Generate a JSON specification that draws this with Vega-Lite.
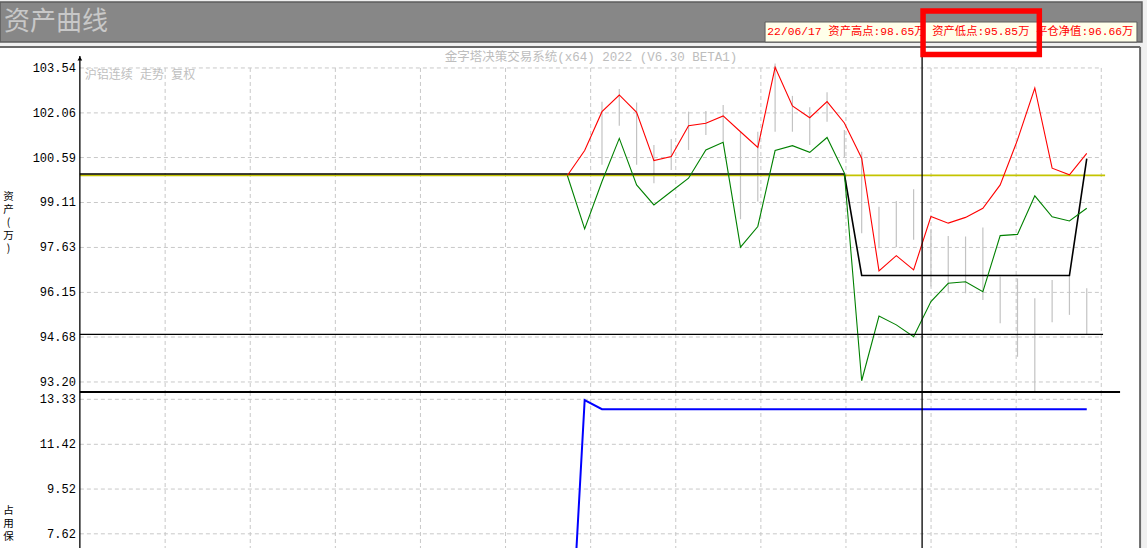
{
  "$schema": "https://vega.github.io/schema/vega-lite/v6.json",
  "width": 1147,
  "height": 548,
  "autosize": "none",
  "padding": 0,
  "background": "#f0f0f0",
  "config": {"view": {"stroke": null}, "font": "Noto Sans CJK SC"},
  "datasets": {
    "series": [
      {"i": 0, "hi": 100.00, "lo": 100.00, "net": 100.00, "margin": 0},
      {"i": 1, "hi": 100.82, "lo": 98.24, "net": 100.00, "margin": 13.30},
      {"i": 2, "hi": 102.10, "lo": 99.80, "net": 100.00, "margin": 12.91},
      {"i": 3, "hi": 102.65, "lo": 101.22, "net": 100.00, "margin": 12.91},
      {"i": 4, "hi": 102.08, "lo": 99.69, "net": 100.00, "margin": 12.91},
      {"i": 5, "hi": 100.49, "lo": 99.03, "net": 100.00, "margin": 12.91},
      {"i": 6, "hi": 100.62, "lo": 99.47, "net": 100.00, "margin": 12.91},
      {"i": 7, "hi": 101.64, "lo": 99.91, "net": 100.00, "margin": 12.91},
      {"i": 8, "hi": 101.72, "lo": 100.84, "net": 100.00, "margin": 12.91},
      {"i": 9, "hi": 101.96, "lo": 101.09, "net": 100.00, "margin": 12.91},
      {"i": 10, "hi": 101.44, "lo": 97.64, "net": 100.00, "margin": 12.91},
      {"i": 11, "hi": 100.92, "lo": 98.32, "net": 100.00, "margin": 12.91},
      {"i": 12, "hi": 103.56, "lo": 100.82, "net": 100.00, "margin": 12.91},
      {"i": 13, "hi": 102.29, "lo": 100.98, "net": 100.00, "margin": 12.91},
      {"i": 14, "hi": 101.90, "lo": 100.76, "net": 100.00, "margin": 12.91},
      {"i": 15, "hi": 102.43, "lo": 101.25, "net": 100.00, "margin": 12.91},
      {"i": 16, "hi": 101.73, "lo": 100.08, "net": 100.00, "margin": 12.91},
      {"i": 17, "hi": 100.57, "lo": 93.24, "net": 96.66, "margin": 12.91},
      {"i": 18, "hi": 96.86, "lo": 95.37, "net": 96.66, "margin": 12.91},
      {"i": 19, "hi": 97.36, "lo": 95.08, "net": 96.66, "margin": 12.91},
      {"i": 20, "hi": 96.89, "lo": 94.69, "net": 96.66, "margin": 12.91},
      {"i": 21, "hi": 98.65, "lo": 95.85, "net": 96.66, "margin": 12.91},
      {"i": 22, "hi": 98.43, "lo": 96.45, "net": 96.66, "margin": 12.91},
      {"i": 23, "hi": 98.62, "lo": 96.50, "net": 96.66, "margin": 12.91},
      {"i": 24, "hi": 98.92, "lo": 96.17, "net": 96.66, "margin": 12.91},
      {"i": 25, "hi": 99.69, "lo": 98.02, "net": 96.66, "margin": 12.91},
      {"i": 26, "hi": 101.17, "lo": 98.06, "net": 96.66, "margin": 12.91},
      {"i": 27, "hi": 102.88, "lo": 99.33, "net": 96.66, "margin": 12.91},
      {"i": 28, "hi": 100.24, "lo": 98.64, "net": 96.66, "margin": 12.91},
      {"i": 29, "hi": 100.02, "lo": 98.50, "net": 96.66, "margin": 12.91},
      {"i": 30, "hi": 100.73, "lo": 98.92, "net": 100.51, "margin": 12.91}
    ],
    "bars": [
      {"i": 2, "top": 102.43, "bot": 100.35},
      {"i": 3, "top": 102.85, "bot": 101.64},
      {"i": 4, "top": 102.40, "bot": 100.35},
      {"i": 5, "top": 101.00, "bot": 99.74},
      {"i": 6, "top": 101.20, "bot": 100.18},
      {"i": 7, "top": 102.10, "bot": 100.84},
      {"i": 8, "top": 102.12, "bot": 101.33},
      {"i": 9, "top": 102.32, "bot": 101.11},
      {"i": 10, "top": 101.44, "bot": 98.56},
      {"i": 11, "top": 101.44, "bot": 99.14},
      {"i": 12, "top": 103.69, "bot": 101.44},
      {"i": 13, "top": 102.62, "bot": 101.44},
      {"i": 14, "top": 102.25, "bot": 101.00},
      {"i": 15, "top": 102.74, "bot": 101.77},
      {"i": 16, "top": 101.50, "bot": 100.60},
      {"i": 17, "top": 100.78, "bot": 98.10},
      {"i": 18, "top": 98.97, "bot": 97.60},
      {"i": 19, "top": 99.16, "bot": 97.64},
      {"i": 20, "top": 99.55, "bot": 97.88},
      {"i": 21, "top": 98.21, "bot": 96.34},
      {"i": 22, "top": 98.01, "bot": 96.12},
      {"i": 23, "top": 97.99, "bot": 96.12},
      {"i": 24, "top": 98.29, "bot": 95.90},
      {"i": 25, "top": 96.67, "bot": 95.13},
      {"i": 26, "top": 96.61, "bot": 94.03},
      {"i": 27, "top": 95.96, "bot": 92.88},
      {"i": 28, "top": 96.56, "bot": 95.17},
      {"i": 29, "top": 96.72, "bot": 95.41},
      {"i": 30, "top": 96.29, "bot": 94.75}
    ],
    "vgrid": [
      {"g": -23.231}, {"g": -18.316}, {"g": -13.400}, {"g": -8.485}, {"g": -3.570}, {"g": 1.346},
      {"g": 6.261}, {"g": 11.177}, {"g": 16.092}, {"g": 21.007}, {"g": 25.923}, {"g": 30.838}
    ],
    "ugrid": [
      {"v": 103.54}, {"v": 102.06}, {"v": 100.59}, {"v": 99.11}, {"v": 97.63}, {"v": 96.15}, {"v": 94.68}, {"v": 93.20}
    ],
    "lgrid": [
      {"v": 13.33}, {"v": 11.42}, {"v": 9.52}, {"v": 7.62}
    ]
  },
  "layer": [
    {
      "layer": [
        {
          "data": {"values": [{}]},
          "mark": {"type": "rect", "fill": "#ffffff"},
          "encoding": {
            "x": {"datum": -32.77, "type": "quantitative", "scale": {"domain": [-32.77, 33.48], "nice": false, "zero": false}, "axis": null},
            "x2": {"datum": 33.08},
            "y": {"datum": 104.23, "type": "quantitative", "scale": {"domain": [92.87, 104.23], "range": [392, 47], "nice": false, "zero": false}, "axis": null},
            "y2": {"datum": 92.87}
          }
        },
        {
          "data": {"name": "ugrid"},
          "mark": {"type": "rule", "stroke": "#c8c8c8", "strokeDash": [4, 3], "strokeWidth": 1},
          "encoding": {
            "x": {"datum": -28.157, "type": "quantitative", "scale": {"domain": [-32.77, 33.48], "nice": false, "zero": false}, "axis": null},
            "x2": {"datum": 30.838},
            "y": {"field": "v", "type": "quantitative", "scale": {"domain": [92.87, 104.23], "range": [392, 47], "nice": false, "zero": false}, "axis": null}
          }
        },
        {
          "data": {"name": "ugrid"},
          "mark": {"type": "text", "align": "right", "baseline": "middle", "dx": -4, "font": "Liberation Mono", "fontSize": 12, "fill": "#000000"},
          "encoding": {
            "x": {"datum": -28.157, "type": "quantitative", "scale": {"domain": [-32.77, 33.48], "nice": false, "zero": false}, "axis": null},
            "y": {"field": "v", "type": "quantitative", "scale": {"domain": [92.87, 104.23], "range": [392, 47], "nice": false, "zero": false}, "axis": null},
            "text": {"field": "v", "type": "quantitative", "format": ".2f"}
          }
        },
        {
          "data": {"values": [{}]},
          "mark": {"type": "text", "align": "center", "baseline": "top", "font": "Noto Sans CJK SC", "fontSize": 10.5, "lineHeight": 13, "fill": "#000000"},
          "encoding": {
            "x": {"datum": -32.276, "type": "quantitative", "scale": {"domain": [-32.77, 33.48], "nice": false, "zero": false}, "axis": null},
            "y": {"datum": 99.44, "type": "quantitative", "scale": {"domain": [92.87, 104.23], "range": [392, 47], "nice": false, "zero": false}, "axis": null},
            "text": {"value": ["资", "产", "(", "万", ")"]}
          }
        },
        {
          "data": {"name": "vgrid"},
          "mark": {"type": "rule", "stroke": "#c8c8c8", "strokeDash": [4, 3], "strokeWidth": 1},
          "encoding": {
            "x": {"field": "g", "type": "quantitative", "scale": {"domain": [-32.77, 33.48], "nice": false, "zero": false}, "axis": null},
            "y": {"datum": 103.54, "type": "quantitative", "scale": {"domain": [92.87, 104.23], "range": [392, 47], "nice": false, "zero": false}, "axis": null},
            "y2": {"datum": 92.87}
          }
        },
        {
          "data": {"name": "bars"},
          "mark": {"type": "rule", "stroke": "#c3c3c3", "strokeWidth": 1.2},
          "encoding": {
            "x": {"field": "i", "type": "quantitative", "scale": {"domain": [-32.77, 33.48], "nice": false, "zero": false}, "axis": null},
            "y": {"field": "top", "type": "quantitative", "scale": {"domain": [92.87, 104.23], "range": [392, 47], "nice": false, "zero": false}, "axis": null},
            "y2": {"field": "bot"}
          }
        },
        {
          "data": {"values": [{}]},
          "mark": {"type": "rule", "stroke": "#c4c400", "strokeWidth": 1.8},
          "encoding": {
            "x": {"datum": -28.157, "type": "quantitative", "scale": {"domain": [-32.77, 33.48], "nice": false, "zero": false}, "axis": null},
            "x2": {"datum": 31.06},
            "y": {"datum": 100, "type": "quantitative", "scale": {"domain": [92.87, 104.23], "range": [392, 47], "nice": false, "zero": false}, "axis": null}
          }
        },
        {
          "data": {"values": [{}]},
          "mark": {"type": "rule", "stroke": "#000000", "strokeWidth": 1.6, "yOffset": -1.4},
          "encoding": {
            "x": {"datum": -28.157, "type": "quantitative", "scale": {"domain": [-32.77, 33.48], "nice": false, "zero": false}, "axis": null},
            "x2": {"datum": 0},
            "y": {"datum": 100, "type": "quantitative", "scale": {"domain": [92.87, 104.23], "range": [392, 47], "nice": false, "zero": false}, "axis": null}
          }
        },
        {
          "data": {"name": "series"},
          "mark": {"type": "line", "stroke": "#000000", "strokeWidth": 1.6, "yOffset": -1.4},
          "encoding": {
            "x": {"field": "i", "type": "quantitative", "scale": {"domain": [-32.77, 33.48], "nice": false, "zero": false}, "axis": null},
            "y": {"field": "net", "type": "quantitative", "scale": {"domain": [92.87, 104.23], "range": [392, 47], "nice": false, "zero": false}, "axis": null}
          }
        },
        {
          "data": {"name": "series"},
          "mark": {"type": "line", "stroke": "#008000", "strokeWidth": 1.1},
          "encoding": {
            "x": {"field": "i", "type": "quantitative", "scale": {"domain": [-32.77, 33.48], "nice": false, "zero": false}, "axis": null},
            "y": {"field": "lo", "type": "quantitative", "scale": {"domain": [92.87, 104.23], "range": [392, 47], "nice": false, "zero": false}, "axis": null}
          }
        },
        {
          "data": {"name": "series"},
          "mark": {"type": "line", "stroke": "#ff0000", "strokeWidth": 1.1},
          "encoding": {
            "x": {"field": "i", "type": "quantitative", "scale": {"domain": [-32.77, 33.48], "nice": false, "zero": false}, "axis": null},
            "y": {"field": "hi", "type": "quantitative", "scale": {"domain": [92.87, 104.23], "range": [392, 47], "nice": false, "zero": false}, "axis": null}
          }
        },
        {
          "data": {"values": [{}]},
          "mark": {"type": "rule", "stroke": "#000000", "strokeWidth": 1.3},
          "encoding": {
            "x": {"datum": -28.157, "type": "quantitative", "scale": {"domain": [-32.77, 33.48], "nice": false, "zero": false}, "axis": null},
            "x2": {"datum": 30.942},
            "y": {"datum": 94.77, "type": "quantitative", "scale": {"domain": [92.87, 104.23], "range": [392, 47], "nice": false, "zero": false}, "axis": null}
          }
        },
        {
          "data": {"values": [{}]},
          "mark": {"type": "rule", "stroke": "#000000", "strokeWidth": 1.3},
          "encoding": {
            "x": {"datum": 20.49, "type": "quantitative", "scale": {"domain": [-32.77, 33.48], "nice": false, "zero": false}, "axis": null},
            "y": {"datum": 104.23, "type": "quantitative", "scale": {"domain": [92.87, 104.23], "range": [392, 47], "nice": false, "zero": false}, "axis": null},
            "y2": {"datum": 92.87}
          }
        },
        {
          "data": {"values": [{}]},
          "mark": {"type": "rule", "stroke": "#000000", "strokeWidth": 1.3},
          "encoding": {
            "x": {"datum": -28.157, "type": "quantitative", "scale": {"domain": [-32.77, 33.48], "nice": false, "zero": false}, "axis": null},
            "y": {"datum": 103.93, "type": "quantitative", "scale": {"domain": [92.87, 104.23], "range": [392, 47], "nice": false, "zero": false}, "axis": null},
            "y2": {"datum": 92.87}
          }
        },
        {
          "data": {"values": [{}]},
          "mark": {"type": "point", "shape": "triangle-up", "filled": true, "fill": "#000000", "size": 22, "opacity": 1},
          "encoding": {
            "x": {"datum": -28.157, "type": "quantitative", "scale": {"domain": [-32.77, 33.48], "nice": false, "zero": false}, "axis": null},
            "y": {"datum": 103.85, "type": "quantitative", "scale": {"domain": [92.87, 104.23], "range": [392, 47], "nice": false, "zero": false}, "axis": null}
          }
        },
        {
          "data": {"values": [{}]},
          "mark": {"type": "text", "align": "center", "baseline": "middle", "font": "Liberation Mono, Noto Sans CJK SC", "fontSize": 12.5, "fill": "#bdbdbd"},
          "encoding": {
            "x": {"datum": 1.369, "type": "quantitative", "scale": {"domain": [-32.77, 33.48], "nice": false, "zero": false}, "axis": null},
            "y": {"datum": 103.9, "type": "quantitative", "scale": {"domain": [92.87, 104.23], "range": [392, 47], "nice": false, "zero": false}, "axis": null},
            "text": {"value": "金字塔决策交易系统(x64) 2022 (V6.30 BETA1)"}
          }
        },
        {
          "data": {"values": [{}]},
          "mark": {"type": "text", "align": "left", "baseline": "middle", "font": "Liberation Mono, Noto Sans CJK SC", "fontSize": 12, "fill": "#c0c0c0"},
          "encoding": {
            "x": {"datum": -27.87, "type": "quantitative", "scale": {"domain": [-32.77, 33.48], "nice": false, "zero": false}, "axis": null},
            "y": {"datum": 103.31, "type": "quantitative", "scale": {"domain": [92.87, 104.23], "range": [392, 47], "nice": false, "zero": false}, "axis": null},
            "text": {"value": "沪铝连续 走势 复权"}
          }
        },
        {
          "data": {"values": [{}]},
          "mark": {"type": "rule", "stroke": "#6a6a6a", "strokeWidth": 2},
          "encoding": {
            "x": {"datum": -32.77, "type": "quantitative", "scale": {"domain": [-32.77, 33.48], "nice": false, "zero": false}, "axis": null},
            "x2": {"datum": 33.08},
            "y": {"datum": 104.23, "type": "quantitative", "scale": {"domain": [92.87, 104.23], "range": [392, 47], "nice": false, "zero": false}, "axis": null}
          }
        },
        {
          "data": {"values": [{}]},
          "mark": {"type": "rule", "stroke": "#6a6a6a", "strokeWidth": 2},
          "encoding": {
            "x": {"datum": 33.08, "type": "quantitative", "scale": {"domain": [-32.77, 33.48], "nice": false, "zero": false}, "axis": null},
            "y": {"datum": 104.23, "type": "quantitative", "scale": {"domain": [92.87, 104.23], "range": [392, 47], "nice": false, "zero": false}, "axis": null},
            "y2": {"datum": 92.87}
          }
        }
      ]
    },
    {
      "layer": [
        {
          "data": {"values": [{}]},
          "mark": {"type": "rect", "fill": "#ffffff"},
          "encoding": {
            "x": {"datum": -32.77, "type": "quantitative", "scale": {"domain": [-32.77, 33.48], "nice": false, "zero": false}, "axis": null},
            "x2": {"datum": 33.08},
            "y": {"datum": 13.64, "type": "quantitative", "scale": {"domain": [0.99, 13.64], "range": [690, 392], "nice": false, "zero": false}, "axis": null},
            "y2": {"datum": 0.99}
          }
        },
        {
          "data": {"name": "lgrid"},
          "mark": {"type": "rule", "stroke": "#c8c8c8", "strokeDash": [4, 3], "strokeWidth": 1},
          "encoding": {
            "x": {"datum": -28.157, "type": "quantitative", "scale": {"domain": [-32.77, 33.48], "nice": false, "zero": false}, "axis": null},
            "x2": {"datum": 30.838},
            "y": {"field": "v", "type": "quantitative", "scale": {"domain": [0.99, 13.64], "range": [690, 392], "nice": false, "zero": false}, "axis": null}
          }
        },
        {
          "data": {"name": "lgrid"},
          "mark": {"type": "text", "align": "right", "baseline": "middle", "dx": -4, "font": "Liberation Mono", "fontSize": 12, "fill": "#000000"},
          "encoding": {
            "x": {"datum": -28.157, "type": "quantitative", "scale": {"domain": [-32.77, 33.48], "nice": false, "zero": false}, "axis": null},
            "y": {"field": "v", "type": "quantitative", "scale": {"domain": [0.99, 13.64], "range": [690, 392], "nice": false, "zero": false}, "axis": null},
            "text": {"field": "v", "type": "quantitative", "format": ".2f"}
          }
        },
        {
          "data": {"values": [{}]},
          "mark": {"type": "text", "align": "center", "baseline": "top", "font": "Noto Sans CJK SC", "fontSize": 10.5, "lineHeight": 13, "fill": "#000000"},
          "encoding": {
            "x": {"datum": -32.276, "type": "quantitative", "scale": {"domain": [-32.77, 33.48], "nice": false, "zero": false}, "axis": null},
            "y": {"datum": 8.8, "type": "quantitative", "scale": {"domain": [0.99, 13.64], "range": [690, 392], "nice": false, "zero": false}, "axis": null},
            "text": {"value": ["占", "用", "保"]}
          }
        },
        {
          "data": {"name": "vgrid"},
          "mark": {"type": "rule", "stroke": "#c8c8c8", "strokeDash": [4, 3], "strokeWidth": 1},
          "encoding": {
            "x": {"field": "g", "type": "quantitative", "scale": {"domain": [-32.77, 33.48], "nice": false, "zero": false}, "axis": null},
            "y": {"datum": 13.64, "type": "quantitative", "scale": {"domain": [0.99, 13.64], "range": [690, 392], "nice": false, "zero": false}, "axis": null},
            "y2": {"datum": 0.99}
          }
        },
        {
          "data": {"name": "series"},
          "mark": {"type": "line", "stroke": "#0000ff", "strokeWidth": 2},
          "encoding": {
            "x": {"field": "i", "type": "quantitative", "scale": {"domain": [-32.77, 33.48], "nice": false, "zero": false}, "axis": null},
            "y": {"field": "margin", "type": "quantitative", "scale": {"domain": [0.99, 13.64], "range": [690, 392], "nice": false, "zero": false}, "axis": null}
          }
        },
        {
          "data": {"values": [{}]},
          "mark": {"type": "rule", "stroke": "#000000", "strokeWidth": 1.3},
          "encoding": {
            "x": {"datum": 20.49, "type": "quantitative", "scale": {"domain": [-32.77, 33.48], "nice": false, "zero": false}, "axis": null},
            "y": {"datum": 13.64, "type": "quantitative", "scale": {"domain": [0.99, 13.64], "range": [690, 392], "nice": false, "zero": false}, "axis": null},
            "y2": {"datum": 0.99}
          }
        },
        {
          "data": {"values": [{}]},
          "mark": {"type": "rule", "stroke": "#000000", "strokeWidth": 1.8},
          "encoding": {
            "x": {"datum": -28.157, "type": "quantitative", "scale": {"domain": [-32.77, 33.48], "nice": false, "zero": false}, "axis": null},
            "x2": {"datum": 31.924},
            "y": {"datum": 13.64, "type": "quantitative", "scale": {"domain": [0.99, 13.64], "range": [690, 392], "nice": false, "zero": false}, "axis": null}
          }
        },
        {
          "data": {"values": [{}]},
          "mark": {"type": "rule", "stroke": "#000000", "strokeWidth": 1.3},
          "encoding": {
            "x": {"datum": -28.157, "type": "quantitative", "scale": {"domain": [-32.77, 33.48], "nice": false, "zero": false}, "axis": null},
            "y": {"datum": 13.64, "type": "quantitative", "scale": {"domain": [0.99, 13.64], "range": [690, 392], "nice": false, "zero": false}, "axis": null},
            "y2": {"datum": 0.99}
          }
        },
        {
          "data": {"values": [{}]},
          "mark": {"type": "rule", "stroke": "#6a6a6a", "strokeWidth": 2},
          "encoding": {
            "x": {"datum": 33.08, "type": "quantitative", "scale": {"domain": [-32.77, 33.48], "nice": false, "zero": false}, "axis": null},
            "y": {"datum": 13.64, "type": "quantitative", "scale": {"domain": [0.99, 13.64], "range": [690, 392], "nice": false, "zero": false}, "axis": null},
            "y2": {"datum": 0.99}
          }
        }
      ]
    },
    {
      "layer": [
        {
          "data": {"values": [{}]},
          "mark": {"type": "rect", "fill": "#878787", "stroke": "#5e5e5e", "strokeWidth": 1.5},
          "encoding": {
            "x": {"datum": -32.77, "type": "quantitative", "scale": {"domain": [-32.77, 33.48], "nice": false, "zero": false}, "axis": null},
            "x2": {"datum": 33.19},
            "y": {"datum": 0, "type": "quantitative", "scale": {"domain": [0, 1], "range": [42, 2], "nice": false, "zero": false}, "axis": null},
            "y2": {"datum": 1}
          }
        },
        {
          "data": {"values": [{}]},
          "mark": {"type": "text", "align": "left", "baseline": "middle", "font": "Noto Sans CJK SC", "fontSize": 26, "fill": "#c8c8c8"},
          "encoding": {
            "x": {"datum": -32.54, "type": "quantitative", "scale": {"domain": [-32.77, 33.48], "nice": false, "zero": false}, "axis": null},
            "y": {"datum": 0.5, "type": "quantitative", "scale": {"domain": [0, 1], "range": [42, 2], "nice": false, "zero": false}, "axis": null},
            "text": {"value": "资产曲线"}
          }
        },
        {
          "data": {"values": [{}]},
          "mark": {"type": "rect", "fill": "#ffffea", "stroke": "#5e5e5e", "strokeWidth": 1},
          "encoding": {
            "x": {"datum": 11.419, "type": "quantitative", "scale": {"domain": [-32.77, 33.48], "nice": false, "zero": false}, "axis": null},
            "x2": {"datum": 32.9},
            "y": {"datum": 0, "type": "quantitative", "scale": {"domain": [0, 1], "range": [42, 2], "nice": false, "zero": false}, "axis": null},
            "y2": {"datum": 0.5}
          }
        },
        {
          "data": {"values": [{}]},
          "mark": {"type": "text", "align": "left", "baseline": "middle", "font": "Liberation Mono, Noto Sans CJK SC", "fontSize": 11.3, "fill": "#ff0000"},
          "encoding": {
            "x": {"datum": 11.55, "type": "quantitative", "scale": {"domain": [-32.77, 33.48], "nice": false, "zero": false}, "axis": null},
            "y": {"datum": 0.25, "type": "quantitative", "scale": {"domain": [0, 1], "range": [42, 2], "nice": false, "zero": false}, "axis": null},
            "text": {"value": "22/06/17 资产高点:98.65万 资产低点:95.85万 平仓净值:96.66万"}
          }
        },
        {
          "data": {"values": [{}]},
          "mark": {"type": "rect", "fill": "#ffffff", "fillOpacity": 0, "stroke": "#ff0000", "strokeWidth": 5.5},
          "encoding": {
            "x": {"datum": 20.545, "type": "quantitative", "scale": {"domain": [-32.77, 33.48], "nice": false, "zero": false}, "axis": null},
            "x2": {"datum": 27.26},
            "y": {"datum": 0.775, "type": "quantitative", "scale": {"domain": [0, 1], "range": [42, 2], "nice": false, "zero": false}, "axis": null},
            "y2": {"datum": -0.3125}
          }
        }
      ]
    }
  ],
  "resolve": {"scale": {"y": "independent"}}
}
